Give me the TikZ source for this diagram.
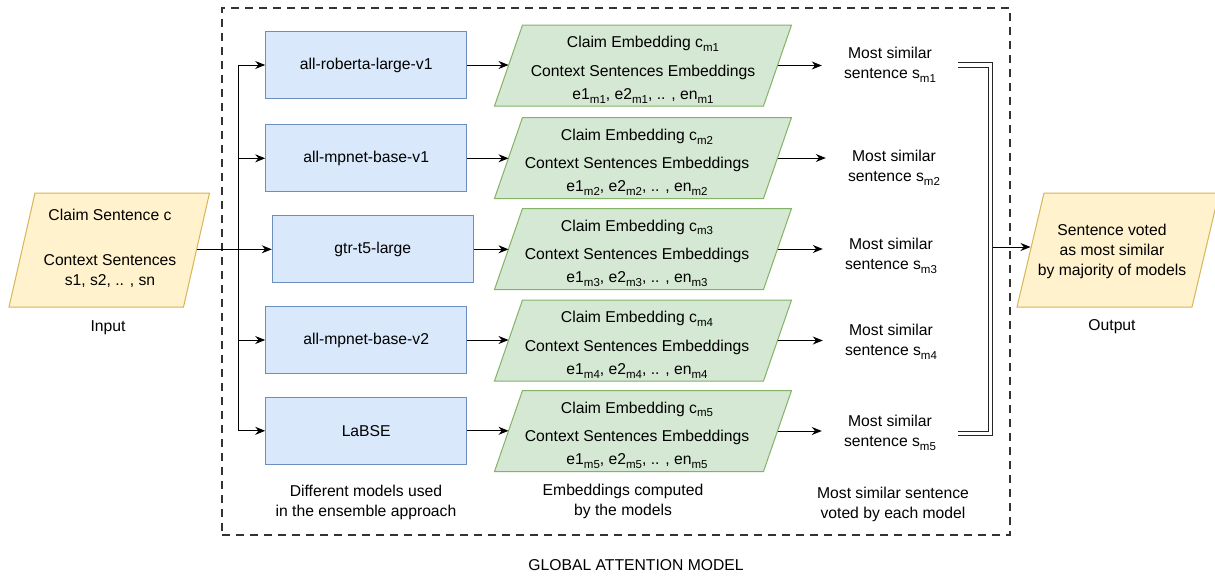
\documentclass[tikz,border=0pt]{standalone}
\usepackage{fontspec}
\setmainfont{Liberation Sans}
\usetikzlibrary{arrows.meta,calc}
\definecolor{bluef}{HTML}{DAE8FC}\definecolor{bluel}{HTML}{6C8EBF}
\definecolor{grnf}{HTML}{D5E8D4}\definecolor{grnl}{HTML}{82B366}
\definecolor{yelf}{HTML}{FFF2CC}\definecolor{yell}{HTML}{D6B656}
\definecolor{framec}{HTML}{333333}
\newcommand{\sbs}[1]{\raisebox{-3.9pt}{\fontsize{11.5}{11.5}\selectfont #1}}
% name, cx, cy, width at middle, height, slant, style
\newcommand{\parabox}[7]{%
  \pgfmathsetmacro\pbL{#2-#4/2}\pgfmathsetmacro\pbR{#2+#4/2}%
  \pgfmathsetmacro\pbT{#3-#5/2}\pgfmathsetmacro\pbB{#3+#5/2}%
  \pgfmathsetmacro\pbS{#6/2}%
  \draw[#7] (\pbL+\pbS,\pbT) -- (\pbR+\pbS,\pbT) -- (\pbR-\pbS,\pbB) -- (\pbL-\pbS,\pbB) -- cycle;
  \coordinate (#1-w) at (\pbL,#3);
  \coordinate (#1-e) at (\pbR,#3);
  \coordinate (#1) at (#2,#3);
}
\begin{document}
\begin{tikzpicture}[x=1pt,y=-1pt,
  font=\fontsize{15.7}{20}\selectfont,
  model/.style={draw=bluel, fill=bluef, line width=1pt, minimum width=201pt, minimum height=66.7pt, inner sep=0pt},
  grn/.style={draw=grnl, fill=grnf, line width=1pt, line join=miter},
  yel/.style={draw=yell, fill=yelf, line width=1pt, line join=miter},
  txt/.style={align=center, inner sep=0pt},
  emb/.style={align=center, inner sep=0pt, font=\fontsize{15.7}{23}\selectfont},
  sim/.style={align=center, inner sep=0pt, minimum width=136pt},
  arr/.style={-{Stealth[length=10pt,width=8pt]}, line width=1pt, black},
  dbl/.style={line width=1pt, double=white, double distance=3.6pt, line join=miter, black!85},
  frame/.style={draw=framec, line width=1.1pt, dash pattern=on 8pt off 6pt, minimum width=788pt, minimum height=527pt, inner sep=0pt}
]
\useasboundingbox (0,0) rectangle (1215,576);
\fill[white] (0,0) rectangle (1215,576);

% container
\node[frame] (fr) at (616,271.5) {};
\node[txt] (gam) at (636,565) {GLOBAL ATTENTION MODEL};

% input / output
\parabox{inp}{109.25}{250}{174.5}{114}{26}{yel}
\node[txt] (inptxt) at (110,248.5) {Claim Sentence c\\[24.5pt]Context Sentences\\s1, s2, .. , sn};
\node[txt] (inplab) at (108,328) {Input};

\parabox{out}{1118}{250}{175}{114}{27}{yel}
\node[txt] (outtxt) at (1112,251) {Sentence voted\\as most similar\\by majority of models};
\node[txt] (outlab) at (1112,327) {Output};

% models
\node[model] (b1) at (366.2,65) {all-roberta-large-v1};
\node[model] (b2) at (366.2,158.3) {all-mpnet-base-v1};
\node[model] (b3) at (372.8,249.3) {gtr-t5-large};
\node[model] (b4) at (366.2,340) {all-mpnet-base-v2};
\node[model] (b5) at (366.2,430.8) {LaBSE};
\node[txt] (lab1) at (366,502.2) {Different models used\\in the ensemble approach};

% embeddings
\parabox{p1}{643}{65.5}{269}{81}{28}{grn}
\parabox{p2}{643}{158}{269}{81}{28}{grn}
\parabox{p3}{643}{249}{269}{81}{28}{grn}
\parabox{p4}{643}{340.5}{269}{81}{28}{grn}
\parabox{p5}{643}{431}{269}{81}{28}{grn}
\node[emb] (e1) at (643,69.8) {Claim Embedding c\sbs{m1}\\[5.8pt]Context Sentences Embeddings\\e1\sbs{m1}, e2\sbs{m1}, .. , en\sbs{m1}};
\node[emb] (e2) at (637,162.3) {Claim Embedding c\sbs{m2}\\[5.8pt]Context Sentences Embeddings\\e1\sbs{m2}, e2\sbs{m2}, .. , en\sbs{m2}};
\node[emb] (e3) at (637,253.3) {Claim Embedding c\sbs{m3}\\[5.8pt]Context Sentences Embeddings\\e1\sbs{m3}, e2\sbs{m3}, .. , en\sbs{m3}};
\node[emb] (e4) at (637,344.8) {Claim Embedding c\sbs{m4}\\[5.8pt]Context Sentences Embeddings\\e1\sbs{m4}, e2\sbs{m4}, .. , en\sbs{m4}};
\node[emb] (e5) at (637,435.3) {Claim Embedding c\sbs{m5}\\[5.8pt]Context Sentences Embeddings\\e1\sbs{m5}, e2\sbs{m5}, .. , en\sbs{m5}};
\node[txt] (lab2) at (623,501.5) {Embeddings computed\\by the models};

% most similar
\node[sim] (s1) at (890,65) {Most similar\\sentence s\sbs{m1}};
\node[sim] (s2) at (894,167.6) {Most similar\\sentence s\sbs{m2}};
\node[sim] (s3) at (891,256) {Most similar\\sentence s\sbs{m3}};
\node[sim] (s4) at (891,342) {Most similar\\sentence s\sbs{m4}};
\node[sim] (s5) at (890,433.3) {Most similar\\sentence s\sbs{m5}};
\node[txt] (lab3) at (893,504.2) {Most similar sentence\\voted by each model};

% fan-out
\coordinate (fan) at (238.3,0);
\draw[arr] (fan |- b5.west) |- (b1.west);
\draw[arr] (fan |- b2.west) -- (b2.west);
\draw[arr] (fan |- b4.west) -- (b4.west);
\draw[arr] (fan |- b5.west) -- (b5.west);
\draw[arr] (inp-e |- b3.west) -- (b3.west);

% model -> embeddings
\foreach \i in {1,...,5}{
  \draw[arr] (b\i.east) -- (b\i.east -| p\i-w);
  \draw[arr] (p\i-e) -- (p\i-e -| s\i.west);
}

% merge
\coordinate (mg) at (990.5,247);
\draw[arr] (mg) -- (mg -| out-w);
\draw[dbl] (s1.east) -| (mg) |- (s5.east);
\end{tikzpicture}
\end{document}
